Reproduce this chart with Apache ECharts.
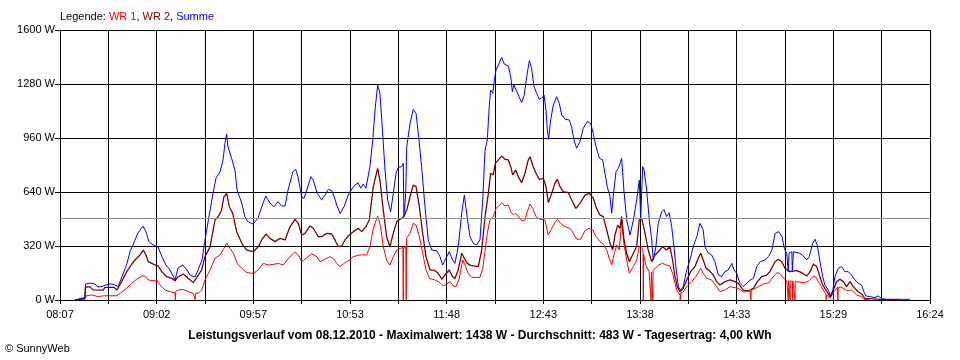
<!DOCTYPE html>
<html>
<head>
<meta charset="utf-8">
<script src="https://cdn.jsdelivr.net/npm/echarts@6/dist/echarts.min.js"></script>
<style>
html,body{margin:0;padding:0;background:#fff;}
#c{width:960px;height:360px;}
</style>
</head>
<body>
<div id="c"></div>
<script>
// x values: minutes after 08:07:30
const tickLabels = ["08:07","09:02","09:57","10:53","11:48","12:43","13:38","14:33","15:29","16:24"];
const tickStep = 27.6; // minutes between grid lines
const yTicks = [0, 320, 640, 960, 1280, 1600];
const average = 483;

const summe = [
[8.6,0],[11.4,8],[14.3,15],[14.6,95],[17.1,100],[20.0,95],[21.7,77],[24.0,80],[25.7,88],[28.6,95],[30.8,92],[33.1,79],[35.4,138],[38.3,219],[40.0,286],[42.8,355],[44.5,397],[47.4,438],[49.1,405],[50.8,346],[53.1,326],[56.0,314],[58.2,257],[60.5,207],[62.8,178],[65.7,119],[67.4,190],[70.2,207],[72.5,178],[74.2,148],[77.1,136],[78.8,178],[81.1,237],[82.8,355],[85.7,533],[87.4,634],[89.1,723],[91.4,760],[93.1,830],[94.2,930],[95.2,982],[95.9,908],[98.0,840],[99.9,770],[101.1,652],[103.8,574],[105.6,494],[107.3,464],[110.2,450],[113.1,486],[115.2,553],[117.5,616],[119.9,574],[122.2,553],[124.5,583],[126.6,557],[128.5,557],[130.2,652],[133.0,760],[134.6,774],[135.9,731],[138.0,612],[139.3,602],[140.9,652],[143.3,731],[144.6,711],[146.9,632],[149.4,593],[151.3,622],[153.2,656],[155.1,648],[156.6,612],[158.0,563],[159.9,512],[162.2,553],[164.6,622],[165.6,642],[168.4,681],[170.3,695],[171.7,662],[173.2,687],[174.7,662],[177.0,790],[178.6,948],[179.9,1126],[181.4,1274],[182.7,1225],[184.0,1027],[185.6,770],[187.1,593],[188.8,523],[190.3,632],[191.9,751],[193.2,786],[195.1,790],[196.0,810],[196.4,494],[197.4,632],[198.0,908],[199.9,1047],[201.7,1130],[203.3,1106],[204.6,988],[206.5,790],[208.4,553],[210.3,356],[212.2,296],[215.1,292],[217.0,257],[218.5,207],[220.4,247],[222.3,286],[224.2,237],[225.5,217],[227.4,316],[229.4,514],[230.9,622],[232.2,514],[234.1,375],[236.0,336],[237.9,326],[239.8,356],[241.4,593],[242.7,889],[244.0,948],[245.1,1146],[245.9,1244],[247.1,1225],[248.0,1304],[249.0,1363],[250.3,1393],[252.2,1438],[253.7,1398],[256.0,1387],[257.4,1323],[258.3,1234],[259.2,1274],[260.2,1284],[261.7,1215],[263.6,1170],[265.1,1215],[266.5,1323],[268.0,1418],[269.3,1373],[270.7,1264],[272.2,1225],[273.7,1189],[275.6,1201],[276.4,1215],[277.5,1126],[278.3,1007],[279.0,952],[280.2,1067],[281.7,1156],[283.6,1205],[285.1,1166],[286.5,1096],[288.4,1071],[290.8,1067],[292.2,1023],[293.5,948],[295.0,899],[296.9,938],[298.8,1017],[301.1,1057],[303.0,1047],[304.5,988],[306.1,908],[308.0,840],[309.9,830],[311.2,751],[312.5,672],[314.1,612],[315.0,514],[316.3,652],[317.5,760],[318.8,780],[319.8,810],[320.7,840],[322.0,652],[323.6,474],[325.5,385],[327.4,474],[329.3,593],[330.8,711],[331.6,484],[332.7,790],[333.5,770],[335.0,652],[336.5,474],[337.9,356],[338.8,237],[340.3,316],[341.6,454],[343.6,523],[344.9,537],[346.4,494],[347.9,517],[349.3,434],[350.6,316],[351.7,198],[353.1,79],[354.4,59],[355.9,79],[357.9,178],[359.7,237],[361.6,316],[363.6,375],[365.4,454],[366.4,458],[367.3,415],[368.3,316],[370.2,277],[372.1,267],[374.0,227],[375.9,148],[377.8,138],[379.7,168],[381.6,178],[383.6,217],[384.9,178],[386.4,158],[388.3,99],[390.2,79],[392.2,99],[394.1,119],[396.0,128],[397.9,198],[399.8,227],[402.7,237],[404.6,257],[406.5,296],[408.4,395],[410.3,405],[412.3,375],[413.6,306],[415.0,277],[415.9,168],[416.3,277],[417.9,286],[418.2,168],[418.8,286],[422.5,277],[424.5,261],[426.4,237],[427.9,257],[429.8,336],[431.1,360],[432.4,326],[434.0,227],[435.5,138],[436.8,89],[438.7,59],[440.1,20],[441.2,49],[442.5,138],[444.4,188],[446.3,198],[448.2,168],[450.1,168],[452.0,148],[453.9,119],[455.8,99],[457.7,89],[459.0,49],[460.2,24],[462.5,20],[465.4,14],[467.2,24],[469.2,8],[472.2,4],[485.4,4]
];

const wr2 = [
[8.6,0],[14.0,8],[14.6,75],[17.1,79],[18.8,60],[24.6,59],[25.7,75],[30.8,75],[32.5,59],[35.2,109],[38.1,168],[40.0,198],[42.8,237],[45.7,267],[47.6,296],[49.1,267],[50.4,227],[53.3,213],[56.1,201],[58.1,168],[60.9,138],[63.8,128],[65.7,114],[67.5,138],[70.4,154],[73.3,128],[76.1,103],[77.1,99],[79.0,148],[80.9,178],[82.8,257],[85.7,316],[88.5,474],[90.4,494],[92.3,533],[93.6,612],[95.2,632],[96.7,553],[98.6,514],[100.9,405],[103.8,336],[106.6,296],[110.4,286],[113.2,316],[115.2,356],[117.6,391],[119.9,365],[122.8,346],[125.6,365],[128.5,356],[131.3,434],[134.2,478],[136.1,454],[138.0,385],[139.9,395],[142.8,439],[144.6,425],[147.5,375],[149.4,375],[152.3,395],[155.1,391],[157.0,356],[158.9,316],[160.9,320],[162.7,356],[165.2,385],[167.5,405],[170.3,425],[172.3,405],[174.7,434],[176.6,474],[178.9,672],[181.4,780],[182.7,711],[184.6,533],[186.5,375],[188.4,316],[190.3,395],[192.3,464],[194.1,478],[196.0,490],[198.0,533],[199.9,612],[201.7,681],[203.3,672],[205.2,553],[207.1,395],[209.0,257],[211.3,178],[214.1,174],[216.0,158],[218.0,123],[219.8,148],[222.3,178],[224.2,138],[225.5,128],[227.4,178],[229.4,277],[230.9,247],[232.6,217],[234.5,205],[238.9,198],[240.8,296],[242.7,494],[244.6,632],[245.9,751],[247.4,741],[248.6,810],[250.3,830],[252.2,853],[254.1,834],[256.0,830],[257.4,790],[258.5,741],[260.2,770],[261.7,731],[263.6,695],[265.5,751],[267.4,830],[268.4,849],[269.9,800],[271.8,751],[273.7,715],[276.0,721],[277.5,672],[278.9,577],[280.8,632],[282.6,691],[284.0,715],[285.5,672],[287.4,642],[290.2,636],[292.2,593],[294.6,543],[296.9,573],[299.8,622],[302.2,632],[304.5,603],[306.4,543],[308.3,504],[310.2,494],[312.2,415],[314.1,336],[315.6,296],[316.9,385],[318.5,444],[319.8,425],[320.7,494],[322.0,365],[323.6,277],[325.1,227],[327.4,277],[329.3,316],[330.8,474],[332.2,484],[334.1,395],[335.9,296],[337.9,227],[339.8,267],[341.7,286],[344.1,316],[346.4,296],[348.3,316],[349.8,237],[351.2,138],[352.5,79],[354.0,49],[355.9,69],[357.9,119],[360.1,168],[362.6,198],[364.5,247],[365.9,277],[367.3,237],[368.9,188],[370.8,174],[373.0,148],[375.0,109],[376.9,89],[379.7,109],[382.6,119],[385.4,109],[387.3,99],[390.2,59],[393.1,55],[395.9,69],[398.2,109],[400.7,138],[403.5,148],[405.4,168],[408.3,227],[410.2,241],[412.1,227],[414.0,188],[416.8,168],[420.7,174],[423.5,162],[426.4,142],[428.3,168],[430.2,213],[432.1,198],[433.6,148],[435.5,89],[437.4,59],[439.7,20],[441.6,59],[443.5,109],[445.4,123],[447.3,109],[449.2,79],[451.1,109],[453.0,79],[455.8,49],[457.7,36],[459.6,10],[468.2,4],[479.6,0]
];

const wr1 = [
[8.6,0],[14.3,5],[14.8,24],[18.1,30],[21.9,20],[24.6,25],[32.5,25],[34.3,40],[38.1,69],[40.9,99],[43.8,123],[46.7,142],[48.5,142],[50.4,119],[53.3,114],[55.2,119],[57.1,89],[60.0,59],[62.8,49],[65.7,43],[65.9,0],[66.1,50],[67.5,59],[70.4,63],[73.3,49],[76.1,40],[77.0,40],[77.2,0],[77.4,40],[79.0,40],[80.9,59],[82.8,119],[85.7,178],[88.5,247],[91.4,267],[93.6,306],[95.2,336],[97.1,306],[99.0,277],[101.2,217],[103.8,188],[106.6,162],[110.4,158],[113.2,178],[116.1,217],[118.9,207],[121.8,211],[124.7,217],[127.5,207],[130.4,247],[134.2,286],[136.1,267],[138.0,227],[140.5,247],[143.7,273],[146.6,257],[148.5,227],[151.3,241],[154.2,257],[156.1,247],[158.0,217],[159.9,198],[162.2,217],[165.2,237],[167.5,257],[171.3,267],[175.1,267],[177.0,316],[178.9,425],[181.4,498],[183.1,434],[184.6,316],[186.5,237],[188.4,207],[190.3,257],[192.3,296],[194.1,306],[195.8,310],[196.0,0],[196.2,310],[197.5,310],[197.7,0],[197.9,367],[199.9,395],[201.7,454],[203.3,444],[205.2,375],[207.1,277],[209.0,178],[210.9,128],[214.1,119],[217.0,103],[218.9,83],[220.8,95],[222.7,109],[224.6,83],[226.1,79],[228.0,128],[230.0,237],[231.3,207],[233.1,158],[235.1,134],[239.8,134],[241.4,188],[242.7,290],[244.0,395],[245.5,474],[247.4,494],[249.0,543],[251.2,563],[252.2,577],[254.1,557],[256.0,563],[257.4,523],[258.9,504],[260.2,514],[261.7,498],[263.6,470],[265.5,474],[266.8,523],[268.4,569],[269.9,543],[271.8,494],[274.0,478],[276.9,474],[278.8,385],[280.8,425],[282.6,458],[284.0,478],[285.9,454],[288.4,434],[291.2,425],[293.1,395],[295.1,360],[297.3,360],[299.8,411],[302.2,425],[304.2,415],[306.1,375],[308.3,346],[310.2,332],[312.2,296],[313.6,247],[315.0,207],[316.3,267],[317.9,326],[319.4,296],[320.7,474],[322.0,336],[323.6,237],[325.1,158],[327.4,198],[329.3,237],[330.8,316],[332.2,316],[332.9,290],[333.1,0],[333.3,270],[334.5,207],[336.4,168],[337.3,160],[337.5,0],[337.7,165],[338.3,170],[338.5,0],[338.7,175],[339.8,178],[341.7,207],[344.1,217],[346.4,207],[348.3,201],[349.8,158],[351.2,99],[352.5,49],[354.0,36],[354.2,0],[354.4,40],[355.9,49],[357.9,79],[360.7,109],[363.1,138],[365.9,188],[367.3,158],[369.3,128],[372.1,119],[375.0,79],[376.9,49],[379.7,59],[382.6,79],[387.3,69],[390.2,49],[393.1,49],[394.4,50],[394.5,0],[394.7,55],[395.9,63],[398.8,79],[401.6,95],[403.5,99],[405.0,103],[406.5,128],[409.4,162],[410.9,158],[413.2,128],[415.0,114],[415.8,114],[415.9,0],[416.0,114],[416.8,114],[416.9,0],[417.0,112],[418.3,112],[418.4,0],[418.5,110],[419.6,110],[419.7,0],[419.8,109],[420.7,109],[424.5,103],[427.3,109],[430.2,142],[431.7,134],[433.6,99],[435.9,59],[437.4,35],[437.5,0],[437.8,30],[439.7,10],[442.0,49],[443.9,75],[444.1,75],[444.2,0],[444.4,75],[446.4,75],[449.2,55],[452.0,59],[454.9,30],[457.7,20],[459.0,4],[462.5,0]
];

const FONT = "'Liberation Sans', Arial, sans-serif";
const chart = echarts.init(document.getElementById('c'), null, {renderer: 'canvas'});

chart.setOption({
  animation: false,
  backgroundColor: '#ffffff',
  grid: {left: 60, right: 30, top: 30, bottom: 60, containLabel: false},
  graphic: [
    {type: 'text', left: 60, top: 11, style: {
      text: '{k|Legende: }{a|WR 1}{k|, }{b|WR 2}{k|, }{c|Summe}',
      rich: {
        k: {fill: '#000', fontSize: 11, fontFamily: FONT},
        a: {fill: '#ff0000', fontSize: 11, fontFamily: FONT},
        b: {fill: '#800000', fontSize: 11, fontFamily: FONT},
        c: {fill: '#0000ff', fontSize: 11, fontFamily: FONT}
      }}},
    {type: 'text', left: 'center', top: 330, style: {
      text: 'Leistungsverlauf vom 08.12.2010 - Maximalwert: 1438 W - Durchschnitt: 483 W - Tagesertrag: 4,00 kWh',
      fill: '#000', font: 'bold 12px ' + FONT}},
    {type: 'text', left: 5, top: 343, style: {
      text: '\u00A9 SunnyWeb', fill: '#000', font: '11px ' + FONT}}
  ],
  xAxis: {
    type: 'value', min: 0, max: tickStep * (tickLabels.length - 1) * 2, interval: tickStep,
    axisLine: {show: true, lineStyle: {color: '#000', width: 1}},
    axisTick: {show: true, length: 4, lineStyle: {color: '#000'}},
    splitLine: {show: true, lineStyle: {color: '#000', width: 1}},
    axisLabel: {
      color: '#000', fontSize: 11, fontFamily: FONT, margin: 9, showMaxLabel: true,
      formatter: function (v) {
        const k = Math.round(v / tickStep);
        return k % 2 === 0 ? (tickLabels[k / 2] || '') : '';
      }
    }
  },
  yAxis: {
    type: 'value', min: yTicks[0], max: yTicks[yTicks.length - 1], interval: yTicks[1] - yTicks[0],
    axisLine: {show: true, lineStyle: {color: '#000', width: 1}},
    axisTick: {show: true, length: 5, lineStyle: {color: '#000'}},
    splitLine: {show: true, lineStyle: {color: '#000', width: 1}},
    axisLabel: {color: '#000', fontSize: 11, fontFamily: FONT, margin: 5,
      formatter: function (v) { return String(Math.round(v)) + ' W'; }}
  },
  series: [
    {name: 'Durchschnitt', type: 'line', data: [], silent: true,
      markLine: {silent: true, symbol: 'none', label: {show: false},
        lineStyle: {color: '#909090', width: 1, type: 'solid'},
        data: [{yAxis: average}]}},
    {name: 'WR 1', type: 'line', data: wr1, showSymbol: false, symbol: 'none',
      lineStyle: {color: '#ff0000', width: 1}, itemStyle: {color: '#ff0000'}},
    {name: 'WR 2', type: 'line', data: wr2, showSymbol: false, symbol: 'none',
      lineStyle: {color: '#800000', width: 1.3}, itemStyle: {color: '#800000'}},
    {name: 'Summe', type: 'line', data: summe, showSymbol: false, symbol: 'none',
      lineStyle: {color: '#0000ff', width: 1}, itemStyle: {color: '#0000ff'}}
  ]
});
</script>
</body>
</html>
